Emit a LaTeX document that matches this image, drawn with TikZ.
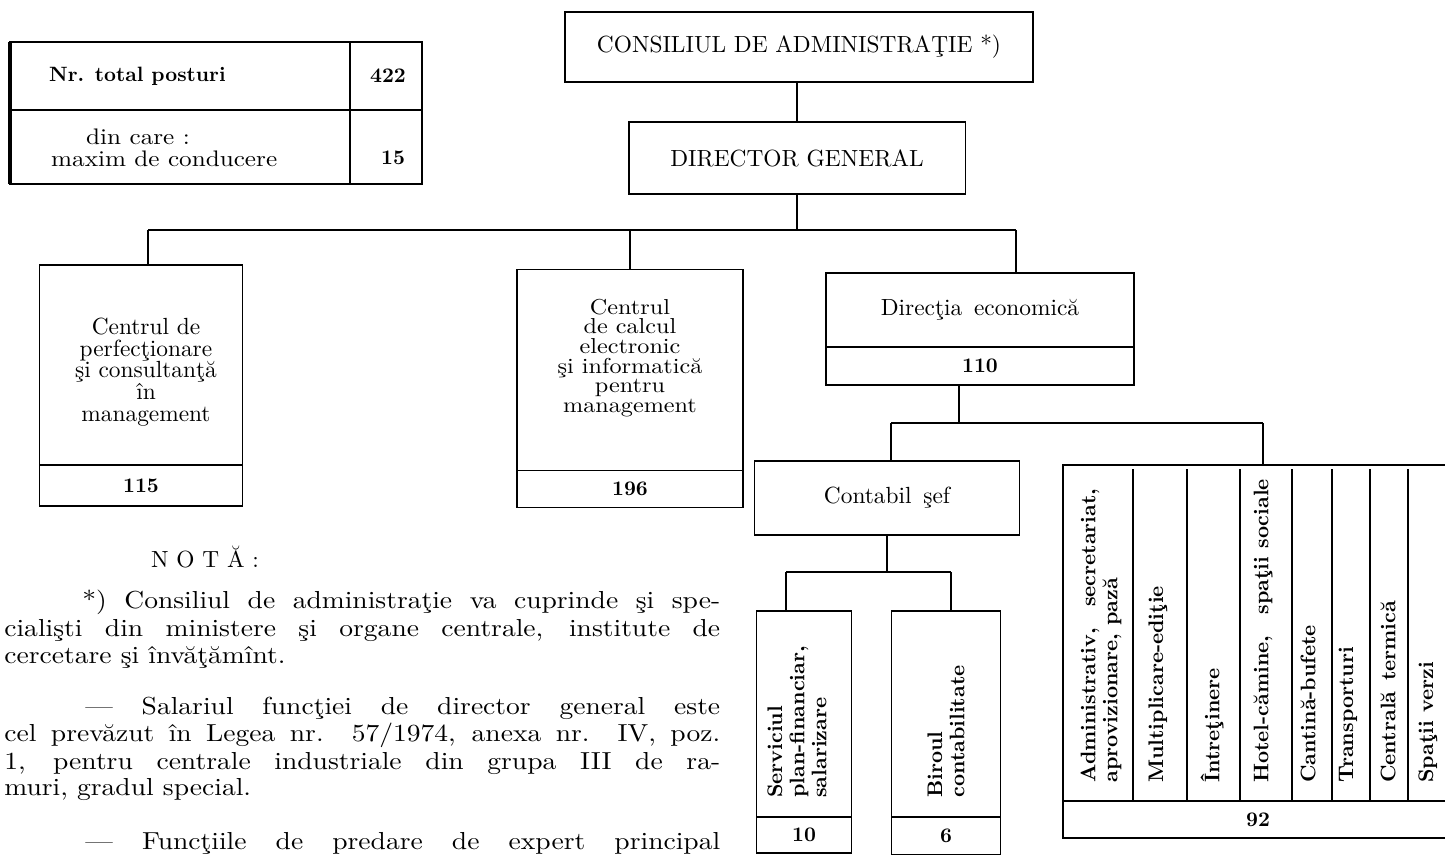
\documentclass[tikz,border=0pt]{standalone}
\usepackage{fontspec}
\setmainfont[BoldFont=lmroman10-bold.otf]{lmroman10-regular.otf}
\newfontfamily\widefont[Ligatures=TeX, FakeStretch=1.12]{lmroman10-regular.otf}
\usetikzlibrary{positioning}

\newcommand\chartfont{\fontsize{13.3}{12.3}\selectfont}
\newcommand\densefont{\widefont\fontsize{12.3}{11.2}\selectfont}
\newcommand\tabfont{\widefont\fontsize{12.8}{12.3}\selectfont}
\newcommand\numfont{\fontsize{11.8}{12}\selectfont\bfseries}
\newcommand\vertfont{\fontsize{12}{12.6}\selectfont\bfseries}
\newcommand\notefont{\widefont\fontsize{14}{15}\selectfont}

\begin{document}
\begin{tikzpicture}[x=0.02cm, y=-0.02cm,
    unitbox/.style={draw, line width=1.1pt, inner sep=2pt, outer sep=0pt, align=center, font=\chartfont},
    numbox/.style={draw, line width=1.1pt, inner sep=0pt, outer sep=0pt, font=\numfont},
    emptybox/.style={draw, line width=1.1pt, outer sep=0pt},
    boxtext/.style={align=center, inner sep=0pt, font=\chartfont},
    vtext/.style={rotate=90, anchor=west, align=left, inner sep=0pt, font=\vertfont},
    noteline/.style={anchor=base west, inner sep=0pt, font=\notefont},
    link/.style={line width=1.1pt}]

    \useasboundingbox (0,0) rectangle (1445,855);

    % posts table
    \draw[line width=1.1pt] (10,42) rectangle (422,184);
    \draw[line width=2.2pt] (10,42) -- (10,184);
    \draw[line width=1.1pt] (10,110) -- (422,110);
    \draw[line width=1.1pt] (350,42) -- (350,184);
    \node[font=\numfont, anchor=west] (totlbl) at (43,76) {Nr. total posturi};
    \node[font=\numfont] (totnum) at (388,76) {422};
    \node[font=\tabfont, align=left, anchor=west] (condlbl) at (45,148) {\hspace{0.7cm}din care :\\maxim de conducere};
    \node[font=\numfont] (condnum) at (393,158) {15};

    % top of the chart
    \node[unitbox, minimum width=9.36cm, minimum height=1.4cm] (cons) at (799,47) {CONSILIUL DE ADMINISTRAŢIE *)};
    \node[unitbox, minimum width=6.74cm, minimum height=1.44cm] (dirgen) at (797,158) {DIRECTOR GENERAL};

    % first level
    \node[emptybox, minimum width=4.06cm, minimum height=4cm] (cperf) at (141,365) {};
    \node[boxtext] (cperftxt) at (146,372) {Centrul de\\perfecţionare\\şi consultanţă\\în\\management};
    \node[numbox, minimum width=4.06cm, minimum height=0.82cm, below=0pt of cperf] (cperfnum) {115};

    \node[emptybox, minimum width=4.52cm, minimum height=4.02cm] (ccalc) at (630,370) {};
    \node[boxtext, font=\densefont] (ccalctxt) at (630,358) {Centrul\\de calcul\\electronic\\şi informatică\\pentru\\management};
    \node[numbox, minimum width=4.52cm, minimum height=0.74cm, below=0pt of ccalc] (ccalcnum) {196};

    \node[unitbox, minimum width=6.16cm, minimum height=1.48cm] (direc) at (980,310) {Direcţia\enspace economică};
    \node[numbox, minimum width=6.16cm, minimum height=0.76cm, below=0pt of direc] (direcnum) {110};

    % accounting
    \node[unitbox, minimum width=5.3cm, minimum height=1.48cm] (contab) at (887,498) {Contabil\enspace şef};

    \node[emptybox, minimum width=1.9cm, minimum height=4.12cm] (serv) at (804,714) {};
    \node[numbox, minimum width=1.9cm, minimum height=0.72cm, below=0pt of serv] (servnum) {10};
    \node[vtext] (servtxt) at (797,798) {Serviciul\\plan-financiar,\\salarizare};

    \node[emptybox, minimum width=2.18cm, minimum height=4.12cm] (birou) at (946,714) {};
    \node[numbox, minimum width=2.18cm, minimum height=0.76cm, below=0pt of birou] (birounum) {6};
    \node[vtext] (biroutxt) at (946,798) {Biroul\\contabilitate};

    % annex services
    \node[emptybox, minimum width=7.8cm, minimum height=6.72cm] (anex) at (1258,633) {};
    \node[numbox, minimum width=7.8cm, minimum height=0.74cm, below=0pt of anex] (anexnum) {92};
    \foreach \x in {1133,1187,1240,1292,1332,1370,1408}
        \draw[link] (\x,469) -- (\x,801);
    \node[vtext] (adm) at (1101,783) {Administrativ,\quad secretariat,\\aprovizionare, pază};
    \node[vtext] (mult) at (1158,783) {Multiplicare-ediţie};
    \node[vtext] (intr) at (1212,783) {Întreţinere};
    \node[vtext] (hotel) at (1263,783) {Hotel-cămine,\quad spaţii sociale};
    \node[vtext] (cant) at (1308,783) {Cantină-bufete};
    \node[vtext] (transp) at (1348,783) {Transporturi};
    \node[vtext] (centr) at (1388,783) {Centrală\enspace termică};
    \node[vtext] (verzi) at (1428,783) {Spaţii verzi};

    % connectors
    \coordinate (busL) at (148,230);
    \coordinate (busR) at (1016,230);
    \draw[link] (dirgen.north) -- (dirgen.north |- cons.south);
    \draw[link] (dirgen.south) -- (dirgen.south |- busL);
    \draw[link] (busL) -- (busR);
    \draw[link] (busL) -- (busL |- cperf.north);
    \draw[link] (ccalc.north |- busL) -- (ccalc.north);
    \draw[link] (busR) -- (busR |- direc.north);

    \coordinate (b2L) at (891,423);
    \coordinate (b2M) at (959,423);
    \coordinate (b2R) at (1263,423);
    \draw[link] (b2M |- direcnum.south) -- (b2M);
    \draw[link] (b2L) -- (b2R);
    \draw[link] (b2L) -- (b2L |- contab.north);
    \draw[link] (b2R) -- (b2R |- anex.north);

    \coordinate (b3L) at (786,572);
    \coordinate (b3R) at (951,572);
    \draw[link] (contab.south) -- (contab.south |- b3L);
    \draw[link] (b3L) -- (b3R);
    \draw[link] (b3L) -- (b3L |- serv.north);
    \draw[link] (b3R) -- (b3R |- birou.north);

    % note
    \node[font=\chartfont] (nota) at (205,557) {N O T Ă :};
    \node[noteline] (n1) at (82,608) {\makebox[12.76cm][s]{*) Consiliul de administraţie va cuprinde şi spe-}};
    \node[noteline] (n2) at (4,636) {\makebox[14.32cm][s]{cialişti din ministere şi organe centrale, institute de}};
    \node[noteline] (n3) at (4,663) {cercetare şi învăţămînt.};
    \node[noteline] (n4) at (85,714) {\makebox[12.7cm][s]{--- Salariul funcţiei de director general este}};
    \node[noteline] (n5) at (4,741) {\makebox[14.32cm][s]{cel prevăzut în Legea nr. 57/1974, anexa nr. IV, poz.}};
    \node[noteline] (n6) at (4,769) {\makebox[14.32cm][s]{1, pentru centrale industriale din grupa III de ra-}};
    \node[noteline] (n7) at (4,795) {muri, gradul special.};
    \node[noteline] (n8) at (85,849) {\makebox[12.7cm][s]{--- Funcţiile de predare de expert principal}};
\end{tikzpicture}
\end{document}
